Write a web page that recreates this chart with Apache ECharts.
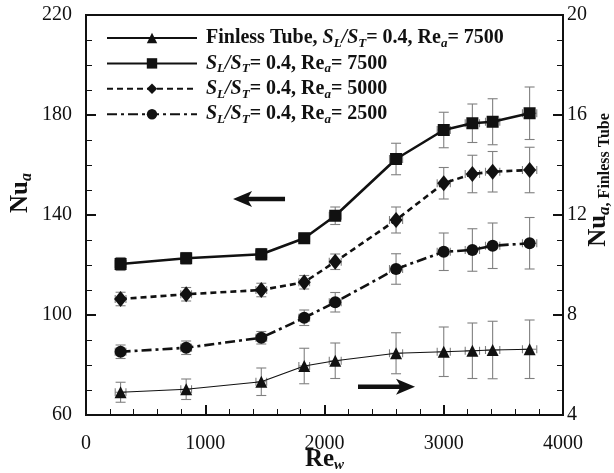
<!DOCTYPE html>
<html>
<head>
<meta charset="utf-8">
<script src="https://cdn.jsdelivr.net/npm/echarts@6/dist/echarts.min.js"></script>
<style>
html,body{margin:0;padding:0;background:#fff;}
#chart{width:614px;height:473px;}
</style>
</head>
<body>
<div id="chart"></div>
<script>
// ---- data ----
var reW = [290, 840, 1470, 1830, 2090, 2600, 3000, 3240, 3410, 3720];
var reWErr = [45, 45, 45, 45, 50, 55, 55, 60, 60, 60];

var nu7500 = [120.4, 122.7, 124.3, 130.7, 139.7, 162.4, 174.0, 176.7, 177.3, 180.7];
var err7500 = [2.6, 2.3, 2.3, 2.0, 3.5, 6.3, 7.1, 7.7, 9.2, 10.5];

var nu5000 = [106.4, 108.3, 110.0, 113.1, 121.3, 138.0, 152.7, 156.4, 157.3, 158.0];
var err5000 = [2.7, 2.7, 2.7, 2.7, 3.1, 5.2, 6.3, 7.5, 8.1, 9.1];

var nu2500 = [85.3, 86.9, 90.9, 98.9, 105.1, 118.4, 125.3, 126.0, 127.7, 128.7];
var err2500 = [2.7, 2.7, 2.5, 3.1, 3.9, 6.1, 7.5, 8.5, 9.1, 10.3];

var nuFinless = [4.91, 5.03, 5.33, 5.96, 6.17, 6.47, 6.53, 6.57, 6.60, 6.63];
var errFinless = [0.40, 0.41, 0.55, 0.71, 0.71, 0.82, 0.99, 1.11, 1.15, 1.17];

var seriesNames = ['Finless', 'SL7500', 'SL5000', 'SL2500'];
var legendTexts = {
  'Finless': '{b|Finless Tube, }{bi|S}{sub|L}{bi|/S}{sub|T}{b|= 0.4, Re}{sub|a}{b|= 7500}',
  'SL7500': '{bi|S}{sub|L}{bi|/S}{sub|T}{b|= 0.4, Re}{sub|a}{b|= 7500}',
  'SL5000': '{bi|S}{sub|L}{bi|/S}{sub|T}{b|= 0.4, Re}{sub|a}{b|= 5000}',
  'SL2500': '{bi|S}{sub|L}{bi|/S}{sub|T}{b|= 0.4, Re}{sub|a}{b|= 2500}'
};

// annotation arrows (data units, left axis): [xTip, xTail, y]
var arrowLeft = [1233, 1669, 146.4];
var arrowRight = [2759, 2281, 71.3];

// ---- helpers ----
var FONT = '"Liberation Serif", "DejaVu Serif", serif';
var INK = '#111';
var ERR = '#808080';

function pairs(xs, ys) { return xs.map(function (x, i) { return [x, ys[i]]; }); }
function errData(xs, ys, es, xes) { return xs.map(function (x, i) { return [x, ys[i], es[i], xes[i]]; }); }

function renderErr(params, api) {
  var x = api.value(0), y = api.value(1), e = api.value(2), xe = api.value(3);
  var top = api.coord([x, y + e]);
  var bot = api.coord([x, y - e]);
  var lft = api.coord([x - xe, y]);
  var rgt = api.coord([x + xe, y]);
  var cw = 5, ch = 4;
  var st = { stroke: ERR, lineWidth: 1.1 };
  return {
    type: 'group',
    children: [
      { type: 'line', shape: { x1: top[0], y1: top[1], x2: bot[0], y2: bot[1] }, style: st },
      { type: 'line', shape: { x1: top[0] - cw, y1: top[1], x2: top[0] + cw, y2: top[1] }, style: st },
      { type: 'line', shape: { x1: bot[0] - cw, y1: bot[1], x2: bot[0] + cw, y2: bot[1] }, style: st },
      { type: 'line', shape: { x1: lft[0], y1: lft[1], x2: rgt[0], y2: rgt[1] }, style: st },
      { type: 'line', shape: { x1: lft[0], y1: lft[1] - ch, x2: lft[0], y2: lft[1] + ch }, style: st },
      { type: 'line', shape: { x1: rgt[0], y1: rgt[1] - ch, x2: rgt[0], y2: rgt[1] + ch }, style: st }
    ]
  };
}

function errSeries(ys, es, axisIdx) {
  return {
    type: 'custom', yAxisIndex: axisIdx, z: 1, silent: true,
    renderItem: renderErr, encode: { x: 0, y: 1 },
    data: errData(reW, ys, es, reWErr), clip: false
  };
}

function lineSeries(name, ys, axisIdx, symbol, size, width, type) {
  return {
    name: name, type: 'line', yAxisIndex: axisIdx, z: 3,
    data: pairs(reW, ys), symbol: symbol, symbolSize: size, showSymbol: true,
    lineStyle: { color: INK, width: width, type: type },
    itemStyle: { color: INK, borderWidth: 0 },
    emphasis: { disabled: true }, silent: true
  };
}

var richText = {
  b: { fontFamily: FONT, fontWeight: 'bold', fontSize: 20, color: INK, lineHeight: 24 },
  bi: { fontFamily: FONT, fontWeight: 'bold', fontStyle: 'italic', fontSize: 20, color: INK, lineHeight: 24 },
  sub: { fontFamily: FONT, fontWeight: 'bold', fontStyle: 'italic', fontSize: 13, color: INK, lineHeight: 13, verticalAlign: 'bottom' }
};

function plain(v) { return String(v); }

var chart = echarts.init(document.getElementById('chart'), null, { renderer: 'canvas' });

var option = {
  animation: false,
  backgroundColor: '#fff',
  grid: {
    left: 86, right: 51, top: 15, bottom: 58, show: true, borderColor: INK, borderWidth: 2,
    backgroundColor: 'transparent', containLabel: false, outerBoundsMode: 'none'
  },
  legend: {
    data: seriesNames, orient: 'vertical', left: 106, top: 28, padding: 0,
    itemWidth: 90, itemHeight: 13, itemGap: 3.4,
    formatter: function (n) { return legendTexts[n]; },
    textStyle: { rich: richText, padding: [0, 0, 0, 4] },
    selectedMode: false
  },
  xAxis: {
    type: 'value', min: 0, max: 4000, interval: 1000,
    axisLine: { lineStyle: { color: INK, width: 2 } },
    axisTick: { inside: true, length: 10, lineStyle: { color: INK, width: 2 } },
    minorTick: { show: true, splitNumber: 5, length: 6, lineStyle: { color: INK, width: 1 } },
    splitLine: { show: false },
    axisLabel: { fontFamily: FONT, fontSize: 20, color: INK, margin: 19, formatter: plain },
    name: '{b|Re}{s|w}', nameLocation: 'middle', nameGap: 32, nameMoveOverlap: false,
    nameTextStyle: {
      verticalAlign: 'top',
      rich: {
        b: { fontFamily: FONT, fontWeight: 'bold', fontSize: 25, color: INK, lineHeight: 26 },
        s: { fontFamily: FONT, fontWeight: 'bold', fontStyle: 'italic', fontSize: 15, color: INK, lineHeight: 13, verticalAlign: 'bottom' }
      }
    }
  },
  yAxis: [
    {
      type: 'value', min: 60, max: 220, interval: 40, position: 'left',
      axisLine: { show: true, lineStyle: { color: INK, width: 2 } },
      axisTick: { inside: true, length: 10, lineStyle: { color: INK, width: 2 } },
      minorTick: { show: true, splitNumber: 4, length: 6, lineStyle: { color: INK, width: 1 } },
      splitLine: { show: false },
      axisLabel: { fontFamily: FONT, fontSize: 20, color: INK, margin: 14, formatter: plain }
    },
    {
      type: 'value', min: 4, max: 20, interval: 4, position: 'right',
      axisLine: { show: true, lineStyle: { color: INK, width: 2 } },
      axisTick: { inside: true, length: 10, lineStyle: { color: INK, width: 2 } },
      minorTick: { show: true, splitNumber: 4, length: 6, lineStyle: { color: INK, width: 1 } },
      splitLine: { show: false },
      axisLabel: { fontFamily: FONT, fontSize: 20, color: INK, margin: 4, formatter: plain }
    }
  ],
  series: [
    errSeries(nuFinless, errFinless, 1),
    errSeries(nu7500, err7500, 0),
    errSeries(nu5000, err5000, 0),
    errSeries(nu2500, err2500, 0),
    lineSeries('Finless', nuFinless, 1, 'triangle', 12, 1.2, 'solid'),
    lineSeries('SL7500', nu7500, 0, 'rect', 12, 2.6, 'solid'),
    lineSeries('SL5000', nu5000, 0, 'diamond', [13, 16], 2.6, [6, 4]),
    lineSeries('SL2500', nu2500, 0, 'circle', 12, 2.6, [10, 4, 3, 4])
  ],
  graphic: [
    {
      type: 'text', x: 21, y: 193, rotation: Math.PI / 2,
      style: {
        text: '{b|Nu}{s|a}', align: 'center', verticalAlign: 'middle',
        rich: {
          b: { fontFamily: FONT, fontWeight: 'bold', fontSize: 25, fill: INK, lineHeight: 28 },
          s: { fontFamily: FONT, fontWeight: 'bold', fontStyle: 'italic', fontSize: 16, fill: INK, lineHeight: 14, verticalAlign: 'bottom' }
        }
      }
    },
    {
      type: 'text', x: 599, y: 180, rotation: Math.PI / 2,
      style: {
        text: '{b|Nu}{s|a}{t|, Finless Tube}', align: 'center', verticalAlign: 'middle',
        rich: {
          b: { fontFamily: FONT, fontWeight: 'bold', fontSize: 25, fill: INK, lineHeight: 28 },
          s: { fontFamily: FONT, fontWeight: 'bold', fontStyle: 'italic', fontSize: 17, fill: INK, lineHeight: 14, verticalAlign: 'bottom' },
          t: { fontFamily: FONT, fontWeight: 'bold', fontSize: 16, fill: INK, lineHeight: 14, verticalAlign: 'bottom' }
        }
      }
    }
  ]
};

chart.setOption(option);

function arrowGraphic(a) {
  var tip = chart.convertToPixel({ xAxisIndex: 0, yAxisIndex: 0 }, [a[0], a[2]]);
  var tail = chart.convertToPixel({ xAxisIndex: 0, yAxisIndex: 0 }, [a[1], a[2]]);
  var dir = tail[0] > tip[0] ? 1 : -1;
  var len = Math.abs(tail[0] - tip[0]);
  var L = 19, hw = 8, sw = 2.2;
  var pts = [[0, 0], [L, -hw], [L * 0.82, -sw], [len, -sw], [len, sw], [L * 0.82, sw], [L, hw]];
  pts = pts.map(function (p) { return [tip[0] + dir * p[0], tip[1] + p[1]]; });
  return { type: 'polygon', shape: { points: pts }, style: { fill: INK }, z: 10, silent: true };
}

var g = option.graphic.slice();
g.push(arrowGraphic(arrowLeft));
g.push(arrowGraphic(arrowRight));
chart.setOption({ graphic: g });
</script>
</body>
</html>
